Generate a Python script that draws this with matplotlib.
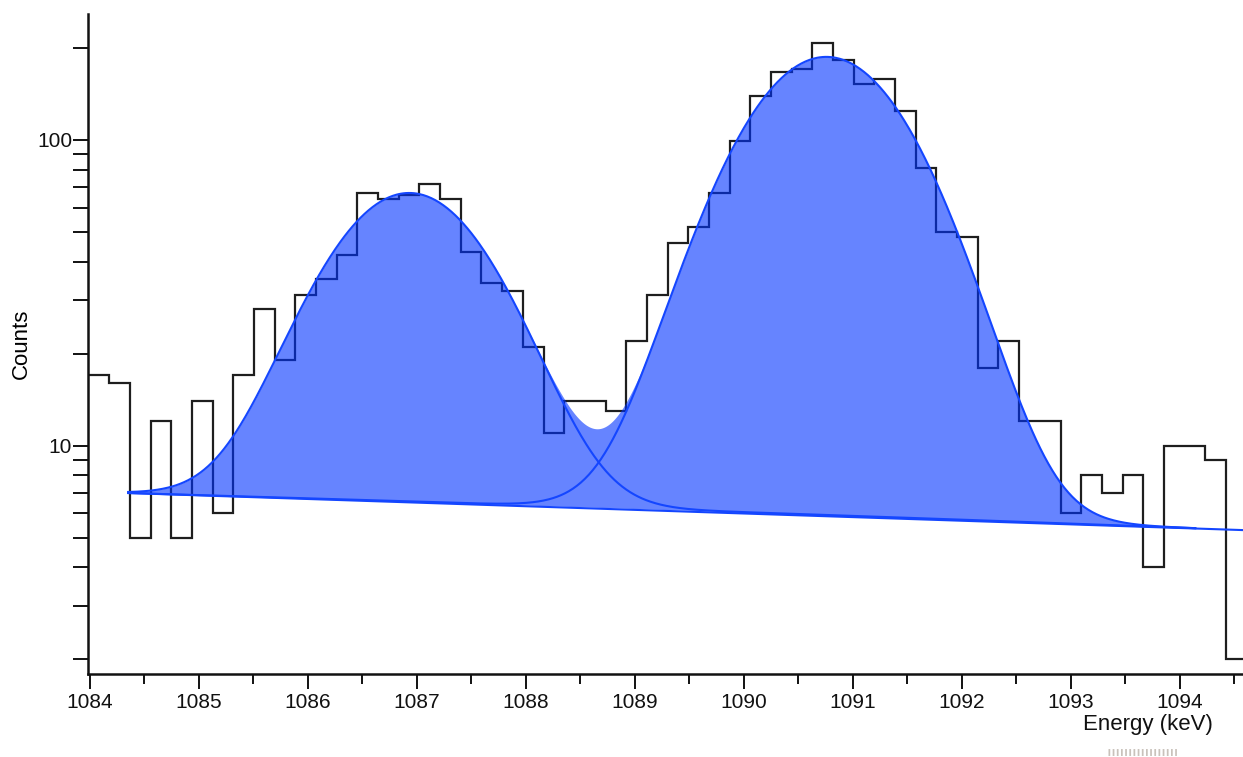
import matplotlib
matplotlib.use('Agg')
import matplotlib.pyplot as plt
import numpy as np
from matplotlib.ticker import LogLocator, FuncFormatter, NullFormatter, MultipleLocator
from matplotlib.lines import Line2D

plt.rcParams['font.family'] = ['Liberation Sans', 'DejaVu Sans']

# spectrum bins (keV) and counts
BIN_START = 1083.987
BIN_WIDTH = 0.18972
counts = [17, 16, 5, 12, 5, 14, 6, 17, 28, 19,
          31, 35, 42, 67, 64, 66, 72, 64, 43, 34,
          32, 21, 11, 14, 14, 13, 22, 31, 46, 52,
          67, 99, 139, 167, 170, 207, 183, 152, 158, 124,
          81, 50, 48, 18, 22, 12, 12, 6, 8, 7,
          8, 4, 10, 10, 9, 2]

# fit: linear background + two gaussians
fit_range = (1084.35, 1094.14)
bg_line_end = 1094.7
bg_at_start = 7.0
bg_slope = -0.1665          # counts per keV
peak_centroids = [1086.93, 1090.756]
peak_amplitudes = [60.5, 181.0]
peak_sigmas = [0.69, 0.715]

x_ticks = [1084, 1085, 1086, 1087, 1088, 1089, 1090, 1091, 1092, 1093, 1094]


def background(x):
    return bg_at_start + bg_slope * (x - fit_range[0])


def gauss(x, c, a, s):
    return a * np.exp(-0.5 * ((x - c) / s) ** 2)


fig = plt.figure(figsize=(12.43, 7.57), dpi=100)
ax = fig.add_axes([88 / 1243, 1 - 674 / 757, 1 - 88 / 1243, (674 - 14) / 757])

edges = BIN_START + BIN_WIDTH * np.arange(len(counts) + 1)
ax.stairs(counts, edges, color='#1e1e1e', lw=1.6, zorder=1, baseline=None)

line_col = '#1446ff'
xs = np.linspace(fit_range[0], fit_range[1], 800)
bg = background(xs)
total = bg.copy()
for c, a, s in zip(peak_centroids, peak_amplitudes, peak_sigmas):
    total += gauss(xs, c, a, s)
ax.fill_between(xs, bg, total, color='#0033ff', alpha=0.6, lw=0, zorder=2)

for c, a, s in zip(peak_centroids, peak_amplitudes, peak_sigmas):
    ax.plot(xs, bg + gauss(xs, c, a, s), color=line_col, lw=1.5, zorder=3)
xb = np.array([fit_range[0], bg_line_end])
ax.plot(xb, background(xb), color=line_col, lw=1.5, zorder=3)

ax.set_yscale('log')
ax.set_ylim(1.791, 258.2)
ax.set_xlim(1083.982, 1094.578)

ax.yaxis.set_major_locator(LogLocator(base=10))
ax.yaxis.set_minor_locator(LogLocator(base=10, subs=np.arange(2, 10)))
ax.yaxis.set_major_formatter(FuncFormatter(lambda v, p: '%g' % v))
ax.yaxis.set_minor_formatter(NullFormatter())
ax.set_xticks(x_ticks)
ax.set_xticklabels([str(t) for t in x_ticks])
ax.xaxis.set_minor_locator(MultipleLocator(0.5))

for side in ['top', 'right']:
    ax.spines[side].set_visible(False)
for side in ['left', 'bottom']:
    ax.spines[side].set_linewidth(1.8)
    ax.spines[side].set_color('#111111')

ax.tick_params(axis='y', which='both', direction='out', length=11, width=1.4,
               labelsize=15, pad=0.5, colors='#111111')
ax.tick_params(axis='x', which='major', direction='out', length=11, width=1.4,
               labelsize=15, pad=3, colors='#111111')
ax.tick_params(axis='x', which='minor', direction='out', length=7, width=1.4,
               colors='#111111')

ax.set_ylabel('Counts', fontsize=16)
ax.yaxis.set_label_coords(-0.0485, 0.5)
fig.text(1213 / 1243, 1 - 730 / 757, 'Energy (keV)', fontsize=16,
         ha='right', va='baseline', color='#111111')

# small dotted handle below the axis
fig.add_artist(Line2D([1108 / 1243, 1178 / 1243], [1 - 752 / 757] * 2,
                      color='#c9c2bb', lw=5, linestyle=(0, (0.25, 0.35))))

fig.savefig('out.png', dpi=100)
